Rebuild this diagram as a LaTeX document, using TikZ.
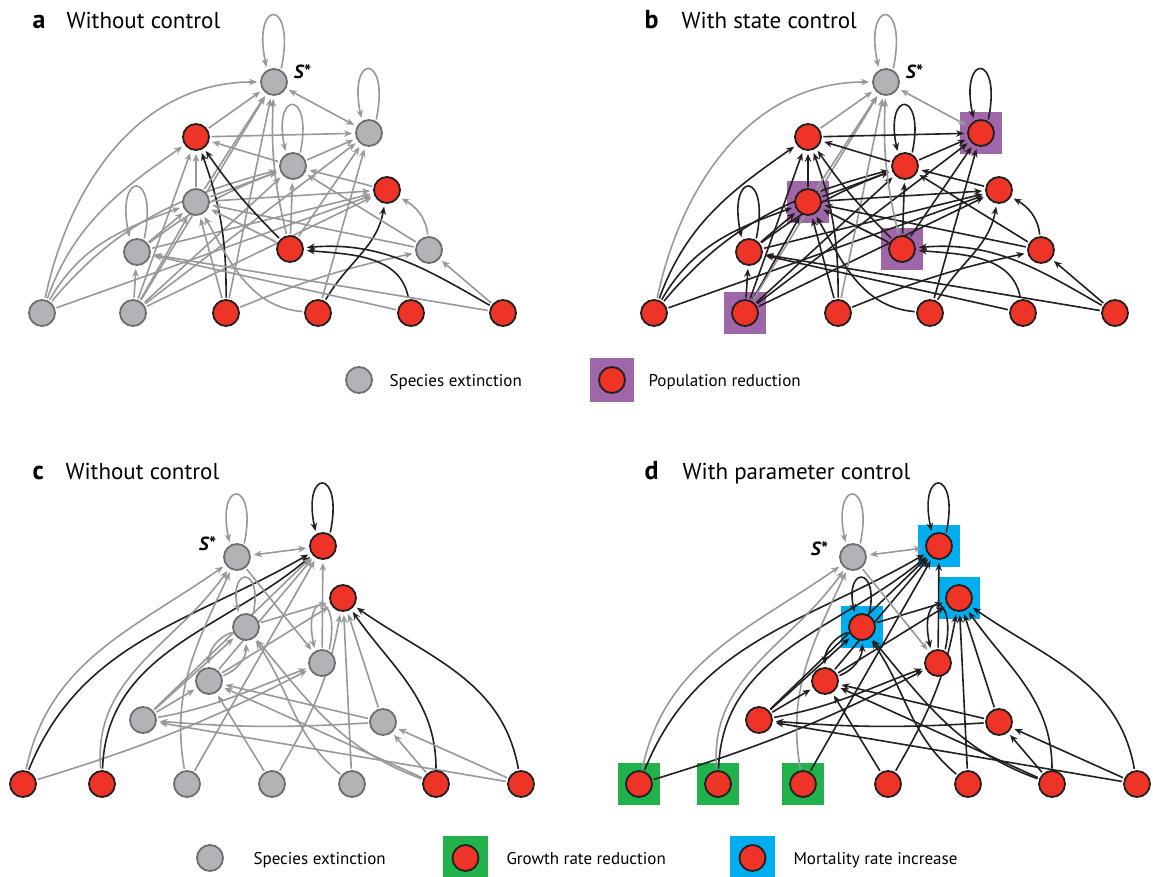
\documentclass[tikz,border=0pt]{standalone}
\usepackage{fontspec}
\setmainfont{PT Sans}
\usetikzlibrary{arrows.meta}
\definecolor{gfill}{HTML}{B1B3B6}
\definecolor{gbord}{HTML}{6D6E71}
\definecolor{nred}{HTML}{EE3426}
\definecolor{nblack}{HTML}{231F20}
\definecolor{egray}{HTML}{96989B}
\definecolor{pur}{HTML}{A066AA}
\definecolor{grn}{HTML}{22B24C}
\definecolor{blu}{HTML}{00AEEF}
\pgfdeclarelayer{bg}\pgfdeclarelayer{edges}\pgfsetlayers{bg,edges,main}
\tikzset{
 gnode/.style={circle,draw=gbord,fill=gfill,line width=1.8pt,minimum size=26pt,inner sep=0pt},
 rnode/.style={circle,draw=nblack,fill=nred,line width=1.8pt,minimum size=26pt,inner sep=0pt},
 ed/.style={line width=1.6pt,draw=nblack,-{Stealth[length=8pt,width=6.5pt]},shorten >=3pt,shorten <=1.5pt},
 both/.style={{Stealth[length=8pt,width=6.5pt]}-{Stealth[length=8pt,width=6.5pt]},shorten <=3pt},
 ttl/.style={anchor=base west,font=\fontsize{23}{23}\selectfont},
 tlet/.style={anchor=base west,font=\bfseries\fontsize{26}{26}\selectfont},
 lgd/.style={anchor=base west,font=\fontsize{17}{17}\selectfont},
 sstar/.style={font=\bfseries\itshape\fontsize{19}{19}\selectfont},
}
\newcommand\Gr[1]{\tikzset{st/#1/.style={gnode},ec/#1/.style={draw=egray}}}
\newcommand\Rd[1]{\tikzset{st/#1/.style={rnode},ec/#1/.style={}}}
\newcommand\E[4][]{\draw[ed,ec/#2,ec/#3,#1] (\P#2) #4 (\P#3);}
\newcommand\Lp[2][74]{\draw[ed,ec/#2] (\P#2.60) .. controls +(78:#1pt) and +(102:#1pt) .. (\P#2.120);}
\newcommand\Bx[2]{\begin{pgfonlayer}{bg}\fill[#1] ([shift={(-21,-21)}]\P#2.center) rectangle ([shift={(21,21)}]\P#2.center);\end{pgfonlayer}}
\newcommand\nodesAB{%
 \node[st/S] (\P S) at (274,-82) {};
 \node[st/A1] (\P A1) at (196,-137) {};
 \node[st/A2] (\P A2) at (369,-133) {};
 \node[st/A3] (\P A3) at (293,-166) {};
 \node[st/A4] (\P A4) at (387,-190) {};
 \node[st/A5] (\P A5) at (196,-202) {};
 \node[st/A6] (\P A6) at (137,-252) {};
 \node[st/A7] (\P A7) at (290,-249) {};
 \node[st/A8] (\P A8) at (429,-250) {};
 \node[st/B1] (\P B1) at (42,-313) {};
 \node[st/B2] (\P B2) at (133,-313) {};
 \node[st/B3] (\P B3) at (226,-313) {};
 \node[st/B4] (\P B4) at (318,-313) {};
 \node[st/B5] (\P B5) at (411,-313) {};
 \node[st/B6] (\P B6) at (503,-313) {};
}
\newcommand\edgesAB{%
 \E{B1}{S}{to[out=78,in=180]}
 \E{B1}{A1}{to[out=70,in=215]}
 \E{B1}{A5}{to[out=60,in=200]}
 \E{B1}{A3}{to[out=50,in=195]}
 \E{B1}{A4}{--}
 \E{A6}{A5}{--}
 \E{A6}{A3}{to[bend left=8]}
 \E{A6}{A4}{--}
 \E{B2}{A6}{--}
 \E{B2}{A5}{--}
 \E{B2}{A1}{--}
 \E{B2}{S}{--}
 \E{B2}{A3}{--}
 \E{B2}{A2}{--}
 \E{B2}{A4}{--}
 \E{B3}{A1}{to[bend right=10]}
 \E{B3}{A5}{--}
 \E{B3}{S}{--}
 \E{B3}{A8}{to[bend left=5]}
 \E{B4}{A4}{to[out=60,in=-100]}
 \E{B4}{A5}{to[out=175,in=-60]}
 \E{B4}{A2}{--}
 \E{B5}{A7}{to[out=100,in=-5]}
 \E{B5}{A6}{--}
 \E{B6}{A6}{--}
 \E{B6}{A7}{to[out=150,in=5]}
 \E{B6}{A8}{--}
 \E{A8}{A4}{to[out=95,in=-30]}
 \E{A8}{A5}{--}
 \E{A8}{A3}{--}
 \E{A4}{A3}{--}
 \E{A5}{A4}{--}
 \E{A5}{A1}{--}
 \E{A5}{A3}{--}
 \E{A5}{S}{--}
 \E{A7}{A1}{to[bend left=5]}
 \E{A7}{A3}{--}
 \E{A7}{A5}{--}
 \E{A7}{A2}{--}
 \E{A7}{S}{to[bend left=8]}
 \E{A1}{S}{--}
 \E{A1}{A2}{--}
 \E{A3}{A1}{--}
 \E{A3}{A2}{--}
 \E[both]{S}{A2}{--}
 \Lp{S}\Lp[70]{A2}\Lp[66]{A3}\Lp[72]{A6}
}
\newcommand\nodesCD{%
 \node[st/S] (\P S) at (237,-557) {};
 \node[st/T] (\P T) at (323,-546) {};
 \node[st/U] (\P U) at (343,-598) {};
 \node[st/C] (\P C) at (246,-627) {};
 \node[st/R] (\P R) at (322,-663) {};
 \node[st/M] (\P M) at (209,-681) {};
 \node[st/L] (\P L) at (143,-720) {};
 \node[st/Q] (\P Q) at (383,-722) {};
 \node[st/D1] (\P D1) at (23,-784) {};
 \node[st/D2] (\P D2) at (102,-784) {};
 \node[st/D3] (\P D3) at (187,-784) {};
 \node[st/D4] (\P D4) at (272,-784) {};
 \node[st/D5] (\P D5) at (352,-784) {};
 \node[st/D6] (\P D6) at (436,-784) {};
 \node[st/D7] (\P D7) at (521,-784) {};
}
\newcommand\edgesCD{%
 \E[both]{S}{T}{--}
 \E{D1}{S}{to[out=78,in=215]}
 \E{D1}{T}{to[out=68,in=210]}
 \E{D1}{R}{to[bend right=5]}
 \E{D2}{S}{to[out=95,in=235]}
 \E{D2}{T}{to[out=88,in=220]}
 \E{D3}{S}{to[out=100,in=245]}
 \E{D3}{T}{--}
 \E{D4}{M}{--}
 \E{D4}{U}{to[out=60,in=-100]}
 \E{D5}{U}{--}
 \E{D5}{C}{to[out=140,in=-55]}
 \E{D6}{U}{to[out=90,in=-55]}
 \E{D6}{Q}{--}
 \E{D6}{M}{--}
 \E{D6}{C}{to[out=160,in=-50]}
 \E{D7}{U}{to[out=100,in=-35]}
 \E{D7}{Q}{--}
 \E{D7}{L}{--}
 \E{Q}{M}{--}
 \E{Q}{L}{to[bend left=4]}
 \E{Q}{U}{--}
 \E{L}{M}{--}
 \E{L}{C}{--}
 \E{L}{R}{to[out=10,in=200]}
 \E{L}{T}{--}
 \E{M}{T}{--}
 \E{C}{U}{--}
 \E{C}{M}{to[bend right=35]}
 \E{M}{C}{to[bend right=35]}
 \E{S}{R}{--}
 \E{R}{T}{--}
 \E{M}{U}{--}
 \Lp[68]{S}\Lp[68]{T}\Lp[50]{C}\Lp[62]{R}
}
\begin{document}
\begin{tikzpicture}[x=1pt,y=1pt]
\useasboundingbox (0,0) rectangle (1153,-877);
\Rd{S}\Rd{A1}\Rd{A2}\Rd{A3}\Rd{A4}\Rd{A5}\Rd{A6}\Rd{A7}\Rd{A8}
\Rd{B1}\Rd{B2}\Rd{B3}\Rd{B4}\Rd{B5}\Rd{B6}
\Rd{T}\Rd{U}\Rd{C}\Rd{R}\Rd{M}\Rd{L}\Rd{Q}
\Rd{D1}\Rd{D2}\Rd{D3}\Rd{D4}\Rd{D5}\Rd{D6}\Rd{D7}
% panel a
\begin{scope}
 \def\P{a}
 \Gr{S}\Gr{A2}\Gr{A3}\Gr{A5}\Gr{A6}\Gr{A8}\Gr{B1}\Gr{B2}
 \nodesAB
 \begin{pgfonlayer}{edges}\edgesAB\end{pgfonlayer}
 \node[sstar] (aSl) at (302,-72) {S*};
 \node[tlet] (aL) at (29,-29) {a};
 \node[ttl] (aT) at (63,-29) {Without control};
\end{scope}
% panel b
\begin{scope}[xshift=612pt]
 \def\P{b}
 \Gr{S}
 \nodesAB
 \Bx{pur}{A2}\Bx{pur}{A5}\Bx{pur}{A7}\Bx{pur}{B2}
 \begin{pgfonlayer}{edges}\edgesAB\end{pgfonlayer}
 \node[sstar] (bSl) at (302,-72) {S*};
 \node[tlet] (bL) at (29,-29) {b};
 \node[ttl] (bT) at (66,-29) {With state control};
\end{scope}
% panel c
\begin{scope}
 \def\P{c}
 \Gr{S}\Gr{C}\Gr{R}\Gr{M}\Gr{L}\Gr{Q}\Gr{D3}\Gr{D4}\Gr{D5}
 \nodesCD
 \begin{pgfonlayer}{edges}\edgesCD\end{pgfonlayer}
 \node[sstar] (cSl) at (207,-544) {S*};
 \node[tlet] (cL) at (29,-479) {c};
 \node[ttl] (cT) at (62,-479) {Without control};
\end{scope}
% panel d
\begin{scope}[xshift=616pt]
 \def\P{d}
 \Gr{S}
 \nodesCD
 \Bx{blu}{T}\Bx{blu}{U}\Bx{blu}{C}\Bx{grn}{D1}\Bx{grn}{D2}\Bx{grn}{D3}
 \begin{pgfonlayer}{edges}\edgesCD\end{pgfonlayer}
 \node[sstar] (dSl) at (203,-549) {S*};
 \node[tlet] (dL) at (25,-479) {d};
 \node[ttl] (dT) at (63,-479) {With parameter control};
\end{scope}
% legends
\node[gnode] (lg1) at (359,-380) {};
\node[lgd] (lt1) at (386,-386) {Species extinction};
\fill[pur] (590,-358) rectangle (634,-402);
\node[rnode] (lr1) at (612,-380) {};
\node[lgd] (lt2) at (645,-386) {Population reduction};
\node[gnode] (lg2) at (210,-858) {};
\node[lgd] (lt3) at (250,-864) {Species extinction};
\fill[grn] (443,-836) rectangle (488,-880);
\node[rnode] (lr2) at (465.5,-858) {};
\node[lgd] (lt4) at (503,-864) {Growth rate reduction};
\fill[blu] (730,-836) rectangle (775,-880);
\node[rnode] (lr3) at (752.5,-858) {};
\node[lgd] (lt5) at (790,-864) {Mortality rate increase};
\end{tikzpicture}
\end{document}
